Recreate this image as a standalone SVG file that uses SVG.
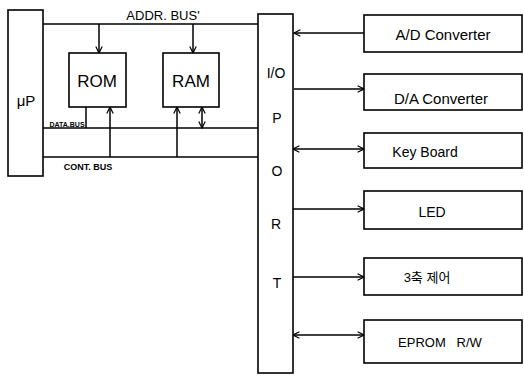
<svg xmlns="http://www.w3.org/2000/svg" width="524" height="382" viewBox="0 0 524 382">
<defs>
<style>
.box{fill:#fff;stroke:#000;stroke-width:1.6}
.ln{fill:none;stroke:#000;stroke-width:1.5}
.t{font-family:"Liberation Sans","Noto Sans CJK KR",sans-serif;fill:#000;text-anchor:middle;dominant-baseline:central}
</style>
<marker id="ah" viewBox="0 0 10 10" refX="9" refY="5" markerWidth="8" markerHeight="8" orient="auto-start-reverse" markerUnits="userSpaceOnUse">
<path d="M1,1 L9,5 L1,9" fill="none" stroke="#000" stroke-width="1.5"/>
</marker>
</defs>
<rect width="524" height="382" fill="#fff"/>
<g id="connectors">
<line class="ln" x1="43" y1="24" x2="258" y2="24"/>
<line class="ln" x1="43" y1="128" x2="258" y2="128"/>
<line class="ln" x1="43" y1="157" x2="258" y2="157"/>
<line class="ln" x1="99" y1="24" x2="99" y2="53" marker-end="url(#ah)"/>
<line class="ln" x1="193" y1="24" x2="193" y2="53" marker-end="url(#ah)"/>
<line class="ln" x1="86" y1="107" x2="86" y2="128"/>
<line class="ln" x1="110" y1="157" x2="110" y2="107" marker-end="url(#ah)"/>
<line class="ln" x1="177" y1="157" x2="177" y2="107" marker-end="url(#ah)"/>
<line class="ln" x1="202" y1="128" x2="202" y2="107" marker-start="url(#ah)" marker-end="url(#ah)"/>
<line class="ln" x1="364" y1="33" x2="294" y2="33" marker-end="url(#ah)"/>
<line class="ln" x1="294" y1="89" x2="364" y2="89" marker-end="url(#ah)"/>
<line class="ln" x1="293" y1="149" x2="364" y2="149" marker-start="url(#ah)" marker-end="url(#ah)"/>
<line class="ln" x1="293" y1="209" x2="364" y2="209" marker-end="url(#ah)"/>
<line class="ln" x1="293" y1="277" x2="364" y2="277" marker-end="url(#ah)"/>
<line class="ln" x1="293" y1="335" x2="364" y2="335" marker-start="url(#ah)" marker-end="url(#ah)"/>
<text class="t" x="163" y="15" font-size="13">ADDR. BUS'</text>
<text class="t" x="67" y="124" font-size="7" font-weight="bold">DATA.BUS</text>
<text class="t" x="88" y="167" font-size="9" font-weight="bold">CONT. BUS</text>
</g>
<g id="up"><rect class="box" x="8" y="10" width="35" height="166"/><text class="t" x="26" y="100" font-size="15">μP</text></g>
<g id="rom"><rect class="box" x="69" y="53" width="57" height="54"/><text class="t" x="97" y="81" font-size="17">ROM</text></g>
<g id="ram"><rect class="box" x="163" y="53" width="56" height="54"/><text class="t" x="191" y="81" font-size="17">RAM</text></g>
<g id="ioport"><rect class="box" x="258" y="14" width="35" height="359"/>
<text class="t" x="276" y="73" font-size="14">I/O</text>
<text class="t" x="277" y="118" font-size="14">P</text>
<text class="t" x="277" y="171" font-size="14">O</text>
<text class="t" x="276" y="224" font-size="14">R</text>
<text class="t" x="277" y="283" font-size="14">T</text></g>
<g id="ad"><rect class="box" x="364" y="15" width="158" height="37"/><text class="t" x="443" y="34" font-size="15">A/D Converter</text></g>
<g id="da"><rect class="box" x="364" y="74" width="158" height="36"/><text class="t" x="441" y="98" font-size="15">D/A Converter</text></g>
<g id="kb"><rect class="box" x="364" y="133" width="158" height="35"/><text class="t" x="425" y="152" font-size="14">Key Board</text></g>
<g id="led"><rect class="box" x="364" y="191" width="158" height="38"/><text class="t" x="432" y="212" font-size="14">LED</text></g>
<g id="axis"><rect class="box" x="364" y="258" width="158" height="37"/><text class="t" x="427" y="277" font-size="13">3축 제어</text></g>
<g id="eprom"><rect class="box" x="364" y="320" width="158" height="43"/><text class="t" x="440" y="342" font-size="13" style="white-space:pre">EPROM   R/W</text></g>
</svg>
